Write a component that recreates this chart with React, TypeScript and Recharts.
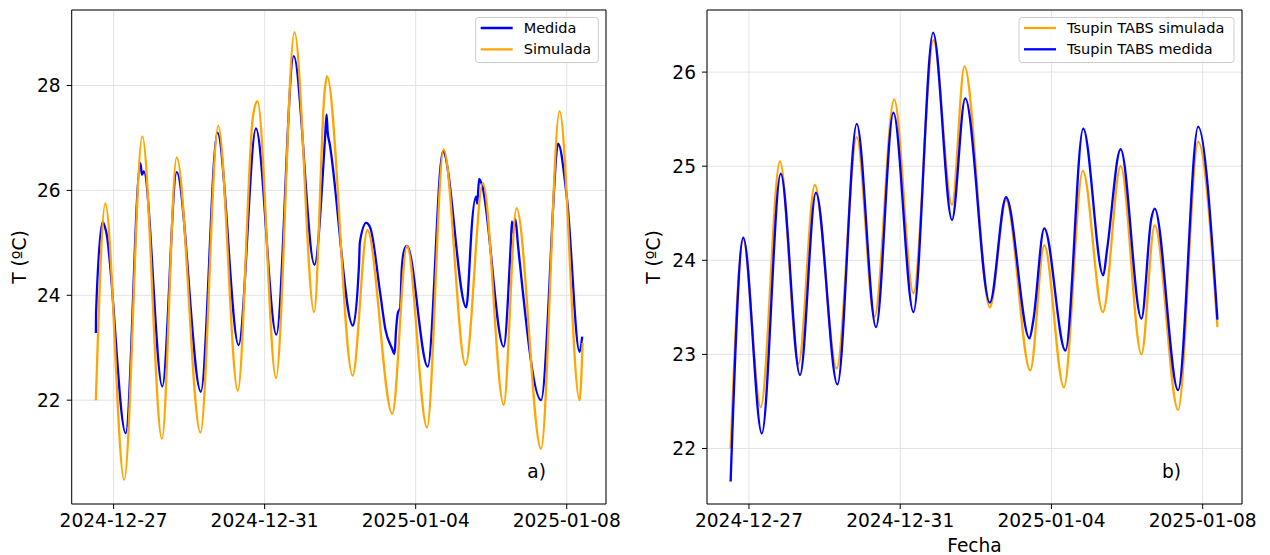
import React from "react";
import {
  LineChart,
  Line,
  XAxis,
  YAxis,
  CartesianGrid,
  ReferenceArea,
  Label,
} from "recharts";

// ticks del eje de fechas (dias desde 2024-12-27)
const fechas = ["2024-12-27", "2024-12-31", "2025-01-04", "2025-01-08"];
const fechaDia = [0, 4, 8, 12];

// panel a)
const diaMedidaA = [
  -0.47, -0.465, -0.29, -0.2, 0.32, 0.71, 0.75, 0.8, 1.29, 1.67, 2.31, 2.75,
  3.31, 3.77, 4.31, 4.77, 5.32, 5.6, 5.64, 5.67, 5.72, 6.34, 6.5, 6.52, 6.69,
  6.8, 7.06, 7.2, 7.37, 7.44, 7.48, 7.53, 7.59, 7.63, 7.7, 7.77, 8.32, 8.72,
  9.34, 9.45, 9.47, 9.6, 9.63, 9.68, 9.75, 10.33, 10.52, 10.55, 10.57, 10.64,
  10.71, 11.32, 11.68, 11.71, 11.77, 12.01, 12.34, 12.41,
];
const tempMedidaA = [
  23.28, 23.66, 25.4, 25.22, 21.37, 26.52, 26.3, 26.36, 22.26, 26.35, 22.16,
  27.1, 23.05, 27.18, 23.25, 28.56, 24.58, 27.0, 27.45, 27.1, 26.9, 23.42, 24.6,
  25.0, 25.38, 25.28, 24.04, 23.34, 22.99, 22.88, 23.34, 23.67, 23.76, 24.49,
  24.87, 24.94, 22.64, 26.74, 23.77, 24.9, 25.15, 25.88, 25.75, 26.22, 26.12,
  23.02, 25.0, 25.41, 25.2, 25.45, 24.95, 22.0, 26.2, 26.55, 26.89, 25.82,
  22.92, 23.21,
];
const diaSimuladaA = [
  -0.47, -0.22, 0.28, 0.76, 1.28, 1.67, 2.3, 2.77, 3.29, 3.69, 3.81, 4.3, 4.79,
  5.31, 5.59, 5.65, 6.33, 6.72, 7.38, 7.77, 8.3, 8.74, 9.32, 9.78, 10.33, 10.67,
  11.32, 11.81, 12.34, 12.42,
];
const tempSimuladaA = [
  22.0, 25.75, 20.48, 27.03, 21.26, 26.63, 21.38, 27.23, 22.18, 27.41, 27.7,
  22.42, 29.02, 23.68, 27.9, 28.18, 22.47, 25.24, 21.74, 24.94, 21.48, 26.78,
  22.67, 26.14, 21.91, 25.66, 21.07, 27.51, 22.0, 23.09,
];

// panel b)
const diaSimuladaB = [
  -0.485, -0.15, 0.31, 0.82, 1.31, 1.74, 2.32, 2.85, 3.32, 3.84, 4.35, 4.88,
  5.37, 5.7, 6.37, 6.8, 7.44, 7.81, 8.33, 8.83, 9.36, 9.83, 10.38, 10.73, 11.35,
  11.88, 12.39,
];
const tempSimuladaB = [
  22.0, 24.22, 22.44, 25.05, 22.9, 24.8, 22.85, 25.31, 23.4, 25.71, 23.65,
  26.34, 24.59, 26.06, 23.5, 24.64, 22.83, 24.16, 22.65, 24.95, 23.45, 25.0,
  23.0, 24.37, 22.41, 25.26, 23.29,
];
const diaMedidaB = [
  -0.485, -0.15, 0.34, 0.84, 1.35, 1.77, 2.34, 2.85, 3.36, 3.82, 4.35, 4.87,
  5.37, 5.72, 6.37, 6.8, 7.42, 7.52, 7.81, 8.37, 8.84, 9.37, 9.47, 9.83, 10.38,
  10.64, 10.73, 11.35, 11.88, 12.39,
];
const tempMedidaB = [
  21.65, 24.24, 22.16, 24.92, 22.78, 24.72, 22.68, 25.45, 23.29, 25.57, 23.45,
  26.42, 24.43, 25.72, 23.55, 24.67, 23.17, 23.36, 24.34, 23.04, 25.4, 23.84,
  24.11, 25.18, 23.38, 24.44, 24.55, 22.62, 25.42, 23.37,
];

const AZUL = "#0000ff";
const NARANJA = "#ffa500";
const FUENTE = "DejaVu Sans";
const xDomain = [-1.11, 13.04];

type Serie = { nombre: string; color: string; dia: number[]; temp: number[] };

const toPoints = (dia: number[], temp: number[]) =>
  dia.map((d, i) => ({ dia: d, t: temp[i] }));

const fmtFecha = (d: number) => fechas[fechaDia.indexOf(d)] ?? "";

const tickStyle = { fill: "#000", fontSize: 18.6, fontFamily: FUENTE };

function Panel({
  left,
  width,
  marginLeft,
  marginRight,
  series,
  yDomain,
  yTicks,
  yLabelOffset,
  xLabel,
}: {
  left: number;
  width: number;
  marginLeft: number;
  marginRight: number;
  series: Serie[];
  yDomain: number[];
  yTicks: number[];
  yLabelOffset: number;
  xLabel?: string;
}) {
  return (
    <div style={{ position: "absolute", left, top: 0 }}>
      <LineChart
        width={width}
        height={555}
        margin={{ top: 10, right: marginRight, bottom: 21, left: marginLeft }}
      >
        <CartesianGrid stroke="#e3e3e3" strokeWidth={1} />
        <XAxis
          type="number"
          dataKey="dia"
          domain={xDomain}
          ticks={fechaDia}
          interval={0}
          allowDataOverflow
          tickFormatter={fmtFecha}
          tick={tickStyle}
          tickSize={5}
          tickMargin={5}
          height={30}
          axisLine={false}
          tickLine={{ stroke: "#000" }}
        >
          {xLabel && (
            <Label
              value={xLabel}
              position="bottom"
              offset={4.3}
              style={{ fill: "#000", fontSize: 18.6, fontFamily: FUENTE }}
            />
          )}
        </XAxis>
        <YAxis
          type="number"
          domain={yDomain}
          ticks={yTicks}
          interval={0}
          allowDataOverflow
          tick={tickStyle}
          tickSize={5}
          tickMargin={6}
          width={60}
          axisLine={false}
          tickLine={{ stroke: "#000" }}
        >
          <Label
            value="T (ºC)"
            angle={-90}
            position="insideLeft"
            offset={yLabelOffset}
            style={{
              textAnchor: "middle",
              fill: "#000",
              fontSize: 18.6,
              fontFamily: FUENTE,
            }}
          />
        </YAxis>
        {series.map((s) => (
          <Line
            key={s.nombre}
            data={toPoints(s.dia, s.temp)}
            dataKey="t"
            name={s.nombre}
            type="monotone"
            stroke={s.color}
            strokeWidth={2.3}
            dot={false}
            activeDot={false}
            isAnimationActive={false}
          />
        ))}
        <ReferenceArea
          x1={xDomain[0]}
          x2={xDomain[1]}
          y1={yDomain[0]}
          y2={yDomain[1]}
          fill="none"
          stroke="#000"
          strokeWidth={1}
          ifOverflow="visible"
        />
      </LineChart>
    </div>
  );
}

function Leyenda({ x, w, series }: { x: number; w: number; series: Serie[] }) {
  return (
    <g>
      <rect
        x={x}
        y={17.5}
        width={w}
        height={45}
        rx={3}
        fill="#fff"
        fillOpacity={0.8}
        stroke="#cccccc"
      />
      {series.map((s, i) => (
        <g key={s.nombre}>
          <line
            x1={x + 5}
            x2={x + 37}
            y1={28 + i * 21.3}
            y2={28 + i * 21.3}
            stroke={s.color}
            strokeWidth={2.3}
          />
          <text
            x={x + 48}
            y={33 + i * 21.3}
            fontSize={14.5}
            fontFamily={FUENTE}
            fill="#000"
          >
            {s.nombre}
          </text>
        </g>
      ))}
    </g>
  );
}

export default function App() {
  const seriesA: Serie[] = [
    { nombre: "Medida", color: AZUL, dia: diaMedidaA, temp: tempMedidaA },
    { nombre: "Simulada", color: NARANJA, dia: diaSimuladaA, temp: tempSimuladaA },
  ];
  const seriesB: Serie[] = [
    {
      nombre: "Tsupin TABS simulada",
      color: NARANJA,
      dia: diaSimuladaB,
      temp: tempSimuladaB,
    },
    {
      nombre: "Tsupin TABS medida",
      color: AZUL,
      dia: diaMedidaB,
      temp: tempMedidaB,
    },
  ];

  return (
    <div
      style={{
        position: "absolute",
        left: 0,
        top: 0,
        width: 1270,
        height: 555,
        background: "#fff",
      }}
    >
      <Panel
        left={0}
        width={620}
        marginLeft={11.7}
        marginRight={14}
        series={seriesA}
        yDomain={[20.02, 29.44]}
        yTicks={[22, 24, 26, 28]}
        yLabelOffset={7.3}
      />
      <Panel
        left={640}
        width={630}
        marginLeft={7}
        marginRight={28}
        series={seriesB}
        yDomain={[21.41, 26.66]}
        yTicks={[22, 23, 24, 25, 26]}
        yLabelOffset={6.5}
        xLabel="Fecha"
      />
      <svg
        width={1270}
        height={555}
        style={{ position: "absolute", left: 0, top: 0, pointerEvents: "none" }}
      >
        <Leyenda x={475.7} w={122.6} series={seriesA} />
        <Leyenda x={1019} w={215} series={seriesB} />
        <text x={527.3} y={478} fontSize={18.6} fontFamily={FUENTE} fill="#000">
          a)
        </text>
        <text x={1162} y={478} fontSize={18.6} fontFamily={FUENTE} fill="#000">
          b)
        </text>
      </svg>
    </div>
  );
}
